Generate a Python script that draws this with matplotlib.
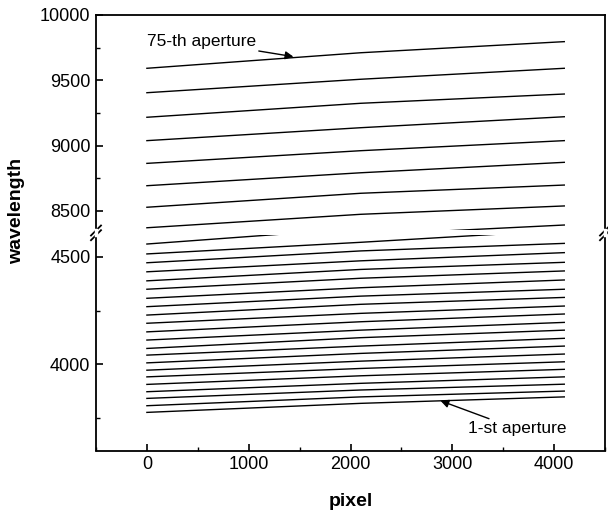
import matplotlib
matplotlib.use("Agg")
import matplotlib.pyplot as plt
from matplotlib.ticker import MultipleLocator

plt.rcParams['font.family'] = ['Liberation Sans', 'DejaVu Sans']

# CCD pixel positions at which each aperture's wavelength was sampled
pixel_pos = [0, 2100, 4100]

# Red apertures (upper axis segment), top to bottom: wavelength at pixel_pos
upper_left = [9592, 9405, 9217, 9038, 8864, 8693, 8528, 8371, 8215]
upper_mid = [9711, 9508, 9324, 9137, 8961, 8792, 8635, 8474, 8315]
upper_right = [9796, 9592, 9395, 9221, 9038, 8872, 8698, 8538, 8392]

# Blue apertures (lower axis segment), top to bottom; the last one is the 1-st aperture
lower_left = [4559, 4513, 4472, 4430, 4388, 4349, 4307, 4268, 4229, 4191, 4151,
              4113, 4074, 4043, 4007, 3973, 3942, 3907, 3873, 3842, 3808, 3777]
lower_mid = [4632, 4567, 4527, 4481, 4441, 4400, 4356, 4317, 4279, 4237, 4198,
             4159, 4124, 4085, 4051, 4015, 3981, 3947, 3912, 3881, 3849, 3819]
lower_right = [4670, 4623, 4562, 4519, 4474, 4434, 4392, 4349, 4311, 4271, 4234,
               4195, 4159, 4121, 4085, 4048, 4012, 3977, 3942, 3908, 3876, 3849]

x_ticks = [0, 1000, 2000, 3000, 4000]
upper_ticks = [8500, 9000, 9500, 10000]
lower_ticks = [4000, 4500]

W, H = 608, 518
fig = plt.figure(figsize=(W / 100, H / 100), dpi=100)

def frac(x0, y_top, x1, y_bot):
    return [x0 / W, 1 - y_bot / H, (x1 - x0) / W, (y_bot - y_top) / H]

ax_up = fig.add_axes(frac(96, 15, 605, 230.5))
ax_lo = fig.add_axes(frac(96, 235.2, 605, 450.5))

lw_line = 1.0
for l, m, r in zip(upper_left, upper_mid, upper_right):
    ax_up.plot(pixel_pos, [l, m, r], color='black', lw=lw_line)
for l, m, r in zip(lower_left, lower_mid, lower_right):
    ax_lo.plot(pixel_pos, [l, m, r], color='black', lw=lw_line)

ax_up.set_ylim(8350, 10000)
ax_lo.set_ylim(3600, 4600)
for ax in (ax_up, ax_lo):
    ax.set_xlim(-500, 4500)
    for s in ax.spines.values():
        s.set_linewidth(1.3)
    ax.tick_params(direction='in', length=5, width=1.2, labelsize=13, pad=4,
                   top=False, right=False)
    ax.tick_params(which='minor', direction='in', length=3, width=1.0,
                   top=False, right=False)
    ax.xaxis.set_minor_locator(MultipleLocator(500))
    ax.yaxis.set_minor_locator(MultipleLocator(250))

ax_up.set_yticks(upper_ticks)
ax_lo.set_yticks(lower_ticks)
ax_up.spines['bottom'].set_visible(False)
ax_up.tick_params(axis='x', which='both', bottom=False, labelbottom=False)
ax_lo.spines['top'].set_visible(False)
ax_lo.set_xticks(x_ticks)

ax_lo.set_xlabel('pixel', fontsize=14, fontweight='bold', labelpad=14)
fig.text(0.027, 0.593, 'wavelength', rotation=90, fontsize=14,
         fontweight='bold', ha='center', va='center')

# axis break marks on both vertical spines
for xs in (96, 605):
    for yc in (230.5, 235.2):
        fig.add_artist(plt.Line2D([(xs - 5) / W, (xs + 5) / W],
                                  [1 - (yc + 5) / H, 1 - (yc - 5) / H],
                                  color='black', lw=1.3))
    fig.add_artist(plt.Line2D([(xs) / W, (xs) / W],
                              [1 - 235.2 / H, 1 - 230.5 / H],
                              color='white', lw=2.5))

arrow = dict(arrowstyle='-|>', color='black', lw=1.0,
             mutation_scale=12, shrinkA=0, shrinkB=0)
ax_up.annotate('75-th aperture', xy=(1439, 9681), xytext=(0, 9796),
               fontsize=12.5, ha='left', va='center', arrowprops=arrow)
ax_lo.annotate('1-st aperture', xy=(2884, 3831), xytext=(3150, 3700),
               fontsize=12.5, ha='left', va='center', arrowprops=arrow)

fig.savefig('out.png', dpi=100)
